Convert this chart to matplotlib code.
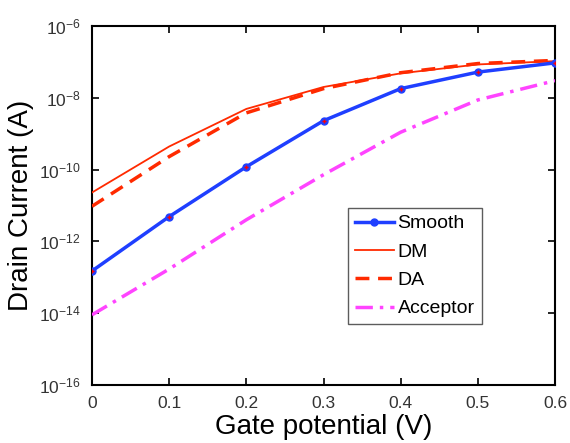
import matplotlib
matplotlib.use("Agg")
import matplotlib.pyplot as plt
import matplotlib.ticker as mticker

plt.rcParams['font.family'] = ['Liberation Sans', 'DejaVu Sans']

gate_v = [0.0, 0.1, 0.2, 0.3, 0.4, 0.5, 0.6]
smooth = [1.5e-13, 4.9e-12, 1.2e-10, 2.3e-9, 1.8e-8, 5.2e-8, 9.4e-8]
dm = [2.3e-11, 4.4e-10, 4.9e-9, 2.0e-8, 4.8e-8, 8.5e-8, 1.05e-7]
da = [9.5e-12, 2.3e-10, 3.8e-9, 1.8e-8, 5.0e-8, 9.0e-8, 1.1e-7]
acceptor = [9e-15, 1.7e-13, 4e-12, 7.2e-11, 1.1e-9, 8.7e-9, 3.0e-8]
yticks = [1e-16, 1e-14, 1e-12, 1e-10, 1e-8, 1e-6]
xticks = [0, 0.1, 0.2, 0.3, 0.4, 0.5, 0.6]

fig = plt.figure(figsize=(5.7, 4.43), dpi=100)
ax = fig.add_axes([92/570, 1-385/443, (555-92)/570, (385-26)/443])

ax.semilogy(gate_v, smooth, color='#1f3fff', lw=2.5, marker='o', ms=5,
            mfc='#1f3fff', mec='#1f3fff', label='Smooth', zorder=4)
ax.semilogy(gate_v, smooth, ls='none', marker='+', ms=3, color='red', zorder=5)
ax.semilogy(gate_v, dm, color='#ff2a00', lw=1.3, label='DM', zorder=3)
ax.semilogy(gate_v, da, color='#ff2a00', lw=2.5, ls=(0, (4, 2.5)), label='DA', zorder=3)
ax.semilogy(gate_v, acceptor, color='#ff44ff', lw=2.5, ls=(0, (5, 2, 1, 2)),
            label='Acceptor', zorder=3)

ax.set_xlim(0, 0.6)
ax.set_ylim(1e-16, 1e-6)
ax.set_xticks(xticks)
ax.set_xticklabels(['0', '0.1', '0.2', '0.3', '0.4', '0.5', '0.6'])
ax.set_yticks(yticks)
ax.yaxis.set_minor_locator(mticker.NullLocator())
ax.tick_params(direction='in', top=True, right=True, length=5, width=1.2,
               labelsize=12.5, labelcolor='#333333', pad=8)
for s in ax.spines.values():
    s.set_linewidth(1.5)

ax.set_xlabel('Gate potential (V)', fontsize=20, labelpad=2)
ax.set_ylabel('Drain Current (A)', fontsize=20, labelpad=4)

leg = ax.legend(loc='upper left', bbox_to_anchor=((348-92)/463, 1-(208-26)/359),
                fontsize=14, frameon=True, fancybox=False, edgecolor='#333333',
                handlelength=2.0, borderpad=0.35, labelspacing=0.55, handletextpad=0.2,
                borderaxespad=0)
leg.get_frame().set_linewidth(1.0)

fig.savefig('out.png', dpi=100)
